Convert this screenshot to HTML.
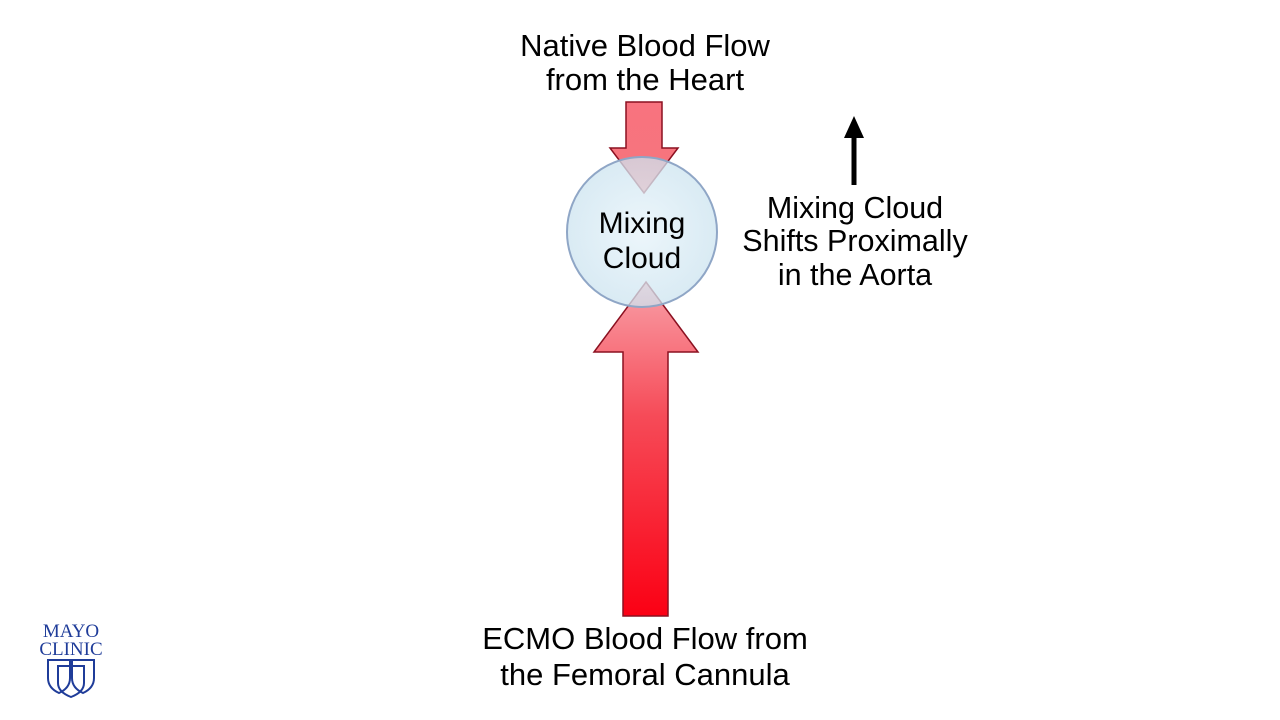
<!DOCTYPE html>
<html><head><style>
body{margin:0;width:1280px;height:720px;background:#fff;overflow:hidden}
svg{display:block}
text{font-family:"Liberation Sans",Arial,sans-serif;fill:#000}
</style></head><body>
<svg width="1280" height="720" viewBox="0 0 1280 720">
<defs>
<linearGradient id="g1" x1="0" y1="0" x2="0" y2="1"><stop offset="0" stop-color="#f8737f"/><stop offset="1" stop-color="#f6747c"/></linearGradient>
<linearGradient id="g2" x1="0" y1="0" x2="0" y2="1"><stop offset="0" stop-color="#f9a0a8"/><stop offset="0.4" stop-color="#f64b58"/><stop offset="1" stop-color="#fb0014"/></linearGradient>
<radialGradient id="c" cx="0.5" cy="0.5" r="0.5"><stop offset="0" stop-color="#e8f4fa" stop-opacity="0.8"/><stop offset="1" stop-color="#cde4f0" stop-opacity="0.75"/></radialGradient>
</defs>
<g stroke="#8b1020" stroke-width="1.5">
<polygon points="626,102 662,102 662,148 678,148 644,193 610,148 626,148" fill="url(#g1)"/>
<polygon points="646,282 698,352 668,352 668,616 623,616 623,352 594,352" fill="url(#g2)"/>
</g>
<circle cx="642" cy="232" r="75" fill="url(#c)" stroke="#8fa6c6" stroke-width="2"/>
<text x="645" y="56" font-size="31" text-anchor="middle">Native Blood Flow</text>
<text x="645" y="90" font-size="31" text-anchor="middle">from the Heart</text>
<text x="642" y="233" font-size="30" text-anchor="middle">Mixing</text>
<text x="642" y="268" font-size="30" text-anchor="middle">Cloud</text>
<line x1="854" y1="185" x2="854" y2="135" stroke="#000" stroke-width="5"/>
<polygon points="854,116 864,138 844,138" fill="#000"/>
<text x="855" y="218" font-size="30.5" text-anchor="middle">Mixing Cloud</text>
<text x="855" y="251" font-size="30.5" text-anchor="middle">Shifts Proximally</text>
<text x="855" y="285" font-size="30.5" text-anchor="middle">in the Aorta</text>
<text x="645" y="649" font-size="31" text-anchor="middle">ECMO Blood Flow from</text>
<text x="645" y="685" font-size="31" text-anchor="middle">the Femoral Cannula</text>
<text x="71" y="637" font-size="19" text-anchor="middle" style="font-family:'Liberation Serif',serif;fill:#1f3c99">MAYO</text>
<text x="71" y="655" font-size="19" text-anchor="middle" style="font-family:'Liberation Serif',serif;fill:#1f3c99">CLINIC</text>
<g fill="none" stroke="#1f3c99" stroke-width="2">
<path d="M48,660 H70 V678 Q70,688 59,693 Q48,688 48,678 Z"/>
<path d="M72,660 H94 V678 Q94,688 83,693 Q72,688 72,678 Z"/>
<path d="M58,666 H84 V683 Q84,692 71,697 Q58,692 58,683 Z"/>
</g>
</svg>
</body></html>
